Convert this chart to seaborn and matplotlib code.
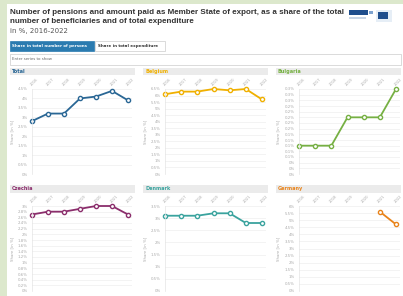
import numpy as np
import pandas as pd
import matplotlib
matplotlib.use("Agg")
import matplotlib.pyplot as plt
from matplotlib.patches import Rectangle
import seaborn as sns

years = [2016, 2017, 2018, 2019, 2020, 2021, 2022]
countries = ["Total", "Belgium", "Bulgaria", "Czechia", "Denmark", "Germany"]
total = [2.8, 3.2, 3.2, 4.0, 4.1, 4.4, 3.9]
belgium = [6.1, 6.3, 6.3, 6.5, 6.4, 6.5, 5.7]
bulgaria = [0.1, 0.1, 0.1, 0.2, 0.2, 0.2, 0.3]
czechia = [2.7, 2.8, 2.8, 2.9, 3.0, 3.0, 2.7]
denmark = [3.1, 3.1, 3.1, 3.2, 3.2, 2.8, 2.8]
germany = [np.nan, np.nan, np.nan, np.nan, np.nan, 5.6, 4.7]
colors = ["#2a6795", "#f0b000", "#76b043", "#8b2e6c", "#3aa39e", "#e8831a"]
ymax = [4.5, 6.5, 0.3, 3.0, 3.5, 6.0]
ystep = [0.5, 0.5, 0.02, 0.2, 0.5, 0.5]

title1 = "Number of pensions and amount paid as Member State of export, as a share of the total"
title2 = "number of beneficiaries and of total expenditure"
subtitle = "in %, 2016-2022"
btn1 = "Share in total number of persons"
btn2 = "Share in total expenditure"
search = "Enter series to show"
ylabel = "Share [in %]"

series = [total, belgium, bulgaria, czechia, denmark, germany]
df = pd.DataFrame({
    "year": np.tile(years, len(countries)),
    "country": np.repeat(countries, len(years)),
    "value": np.concatenate(series),
})

W, H = 403, 296
fig = plt.figure(figsize=(W / 100, H / 100), dpi=100)
fig.patch.set_facecolor("#dce8cc")

def fx(x):
    return x / W

def fy(y):
    return 1 - y / H

def rect(x0, y0, x1, y1, **kw):
    fig.add_artist(Rectangle((fx(x0), fy(y1)), (x1 - x0) / W, (y1 - y0) / H,
                             transform=fig.transFigure, **kw))

rect(7, 4, 403, 296, facecolor="white", edgecolor="none", zorder=0)

fig.text(fx(10), fy(12.5), title1, fontsize=5.8, fontweight="bold", color="#333333",
         va="center", ha="left", family="Liberation Sans")
fig.text(fx(10), fy(21.5), title2, fontsize=5.8, fontweight="bold", color="#333333",
         va="center", ha="left", family="Liberation Sans")
fig.text(fx(10), fy(31), subtitle, fontsize=5.0, color="#555555", va="center", ha="left")

# logos (approximate)
rect(349, 10, 368, 15, facecolor="#1f4e8c", edgecolor="none", zorder=1)
rect(369, 11, 373, 14, facecolor="#7fa3cf", edgecolor="none", zorder=1)
rect(349, 17, 366, 19, facecolor="#c9d6e6", edgecolor="none", zorder=1)
rect(376, 10, 392, 22, facecolor="#e6eef6", edgecolor="none", zorder=1)
rect(378, 12, 388, 19, facecolor="#1f4e8c", edgecolor="none", zorder=2)

# buttons
rect(10, 41, 94, 51, facecolor="#2b7bb0", edgecolor="#2b7bb0", lw=0.5)
fig.text(fx(12), fy(46), btn1, fontsize=2.9, color="white", fontweight="bold", va="center")
rect(95, 41, 165, 51, facecolor="white", edgecolor="#cccccc", lw=0.5)
fig.text(fx(98), fy(46), btn2, fontsize=2.9, color="#333333", fontweight="bold", va="center")

# search box
rect(10, 54, 401, 65, facecolor="white", edgecolor="#cccccc", lw=0.5)
fig.text(fx(12), fy(59.5), search, fontsize=2.8, color="#666666", va="center")

col_x = [(32, 132, 10, 135), (165, 266, 143, 268), (299, 400, 276, 401)]
row_y = [(89, 174, 67.5, 75), (206, 291, 185, 192.5)]

for i, c in enumerate(countries):
    r, k = divmod(i, 3)
    x0, x1, hx0, hx1 = col_x[k]
    y0, y1, hy0, hy1 = row_y[r]
    rect(hx0, hy0, hx1, hy1, facecolor="#ebebeb", edgecolor="none")
    fig.text(fx(hx0 + 2), fy((hy0 + hy1) / 2), c, fontsize=3.6, fontweight="bold",
             color=colors[i], va="center", ha="left")
    ax = fig.add_axes([fx(x0), fy(y1), (x1 - x0) / W, (y1 - y0) / H])
    sub = df[df["country"] == c]
    sns.lineplot(data=sub, x="year", y="value", ax=ax, color=colors[i], lw=1.3,
                 marker="o", markersize=3.0, markerfacecolor="white",
                 markeredgecolor=colors[i], markeredgewidth=1.0, clip_on=False)
    span = (x1 - x0)
    ax.set_xlim(2016, 2016 + 6 * span / (span - 4))
    ax.set_ylim(0, ymax[i])
    ticks = np.round(np.arange(0, ymax[i] + ystep[i] / 2, ystep[i]), 4)
    ax.set_yticks(ticks)
    labs = []
    for t in ticks:
        s = f"{t:.1f}"
        if s.endswith(".0"):
            s = s[:-2]
        labs.append(s + "%")
    ax.set_yticklabels(labs)
    ax.set_xticks(years)
    ax.set_xticklabels([str(y) for y in years], rotation=45, ha="left",
                       rotation_mode="anchor")
    ax.xaxis.tick_top()
    ax.tick_params(axis="x", length=0, pad=2, labelsize=2.7, labelcolor="#aaaaaa")
    ax.tick_params(axis="y", length=0, pad=3, labelsize=2.8, labelcolor="#aaaaaa")
    ax.grid(axis="y", color="#eeeeee", lw=0.5)
    ax.grid(axis="x", visible=False)
    ax.set_facecolor("white")
    for s in ["top", "right", "bottom"]:
        ax.spines[s].set_visible(False)
    ax.spines["left"].set_color("#e4e4e4")
    ax.spines["left"].set_linewidth(0.5)
    ax.set_xlabel("")
    ax.set_ylabel(ylabel, fontsize=2.8, color="#aaaaaa", labelpad=2)
    ax.yaxis.set_label_coords(-(x0 - (hx0 + 4)) / span, 0.5)
    if ax.get_legend():
        ax.get_legend().remove()

fig.savefig("out.png", dpi=100, facecolor=fig.get_facecolor())
